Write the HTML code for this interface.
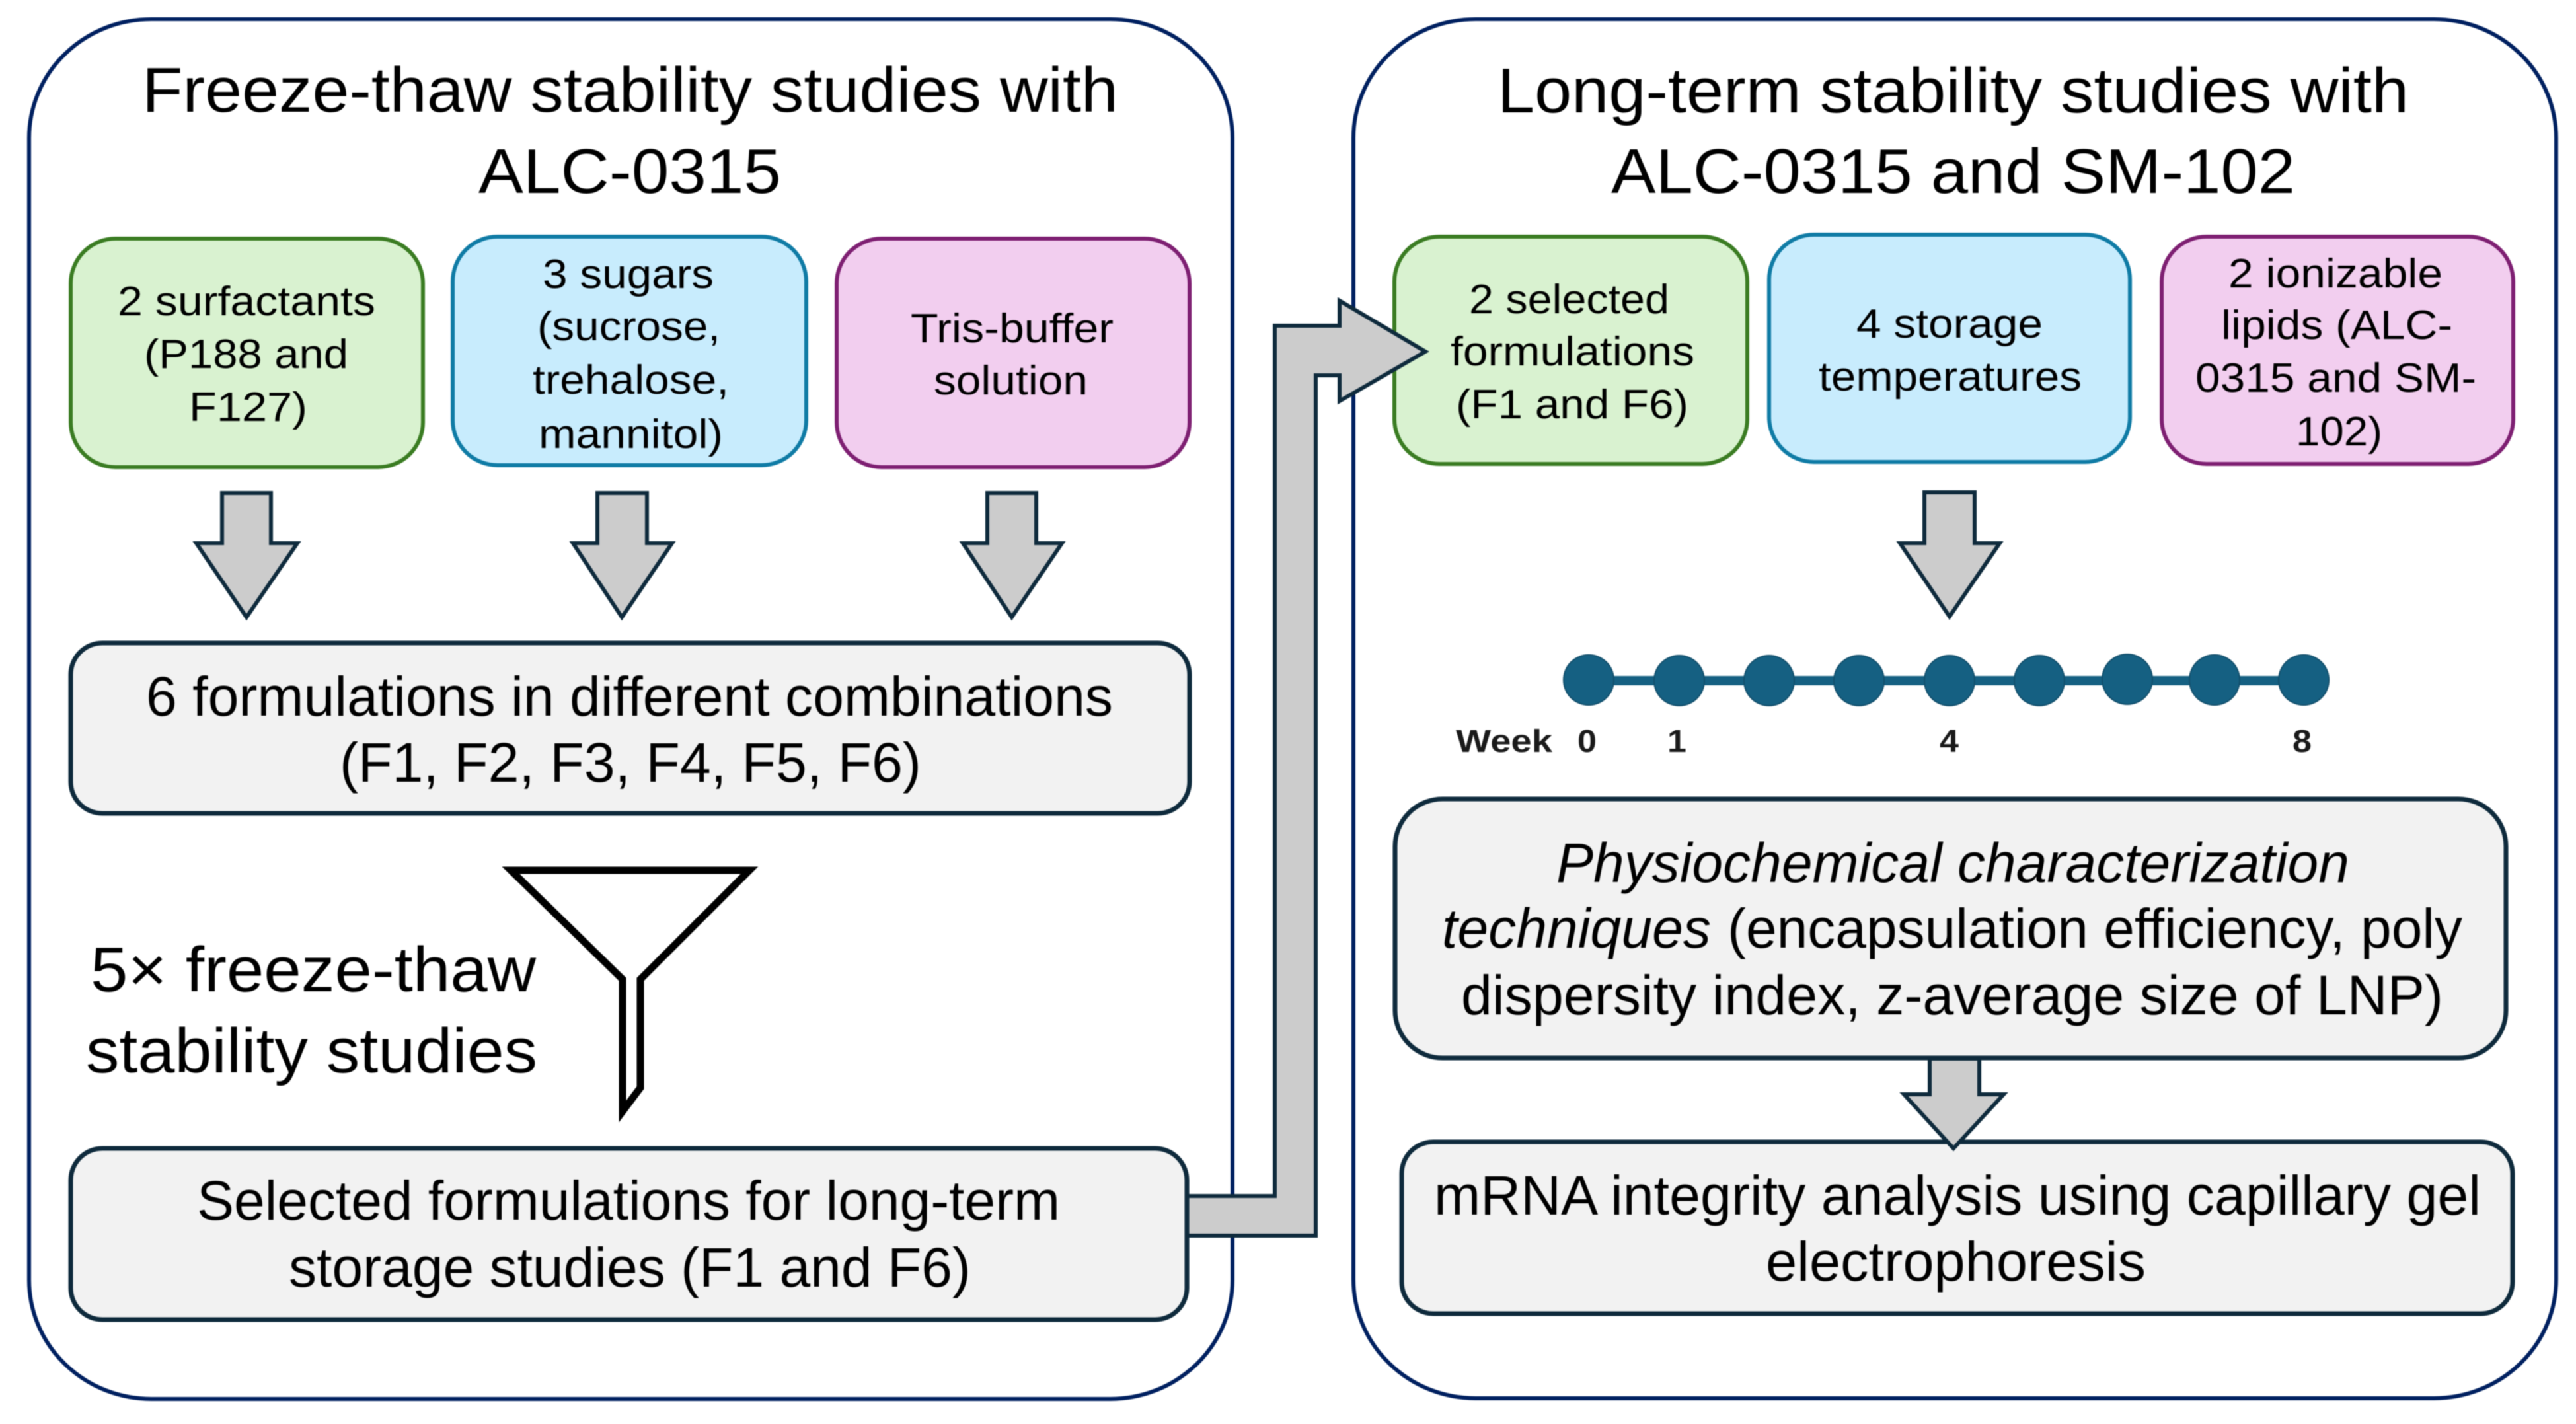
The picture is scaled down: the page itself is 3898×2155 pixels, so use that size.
<!DOCTYPE html>
<html>
<head>
<meta charset="utf-8">
<style>
html,body{margin:0;padding:0;background:#fff;width:3898px;height:2155px;overflow:hidden}
svg{display:block;filter:blur(0.7px)}
text{font-family:"Liberation Sans",sans-serif;fill:#000;}
.t{font-size:96px}
.m{font-size:84px}
.s{font-size:62px}
.w{font-size:48px;font-weight:bold;fill:#1a1a1a}
.i{font-style:italic}
.p{fill:#fff;stroke:#002060;stroke-width:6}
.g{fill:#d9f2d0;stroke:#3a7c22;stroke-width:6}
.b{fill:#c8ecfd;stroke:#0f7ba5;stroke-width:6}
.k{fill:#f2ceef;stroke:#7e1f72;stroke-width:6}
.n{fill:#f2f2f2;stroke:#0e2a3c;stroke-width:7}
.a{fill:#cccccc;stroke:#0e2a3c;stroke-width:6}
</style>
</head>
<body>
<svg xmlns="http://www.w3.org/2000/svg" width="3898" height="2155" viewBox="0 0 3898 2155">
<rect width="3898" height="2155" fill="#fff"/>

<!-- panels -->
<rect class="p" x="44" y="29" width="1821" height="2088" rx="185" ry="180"/>
<rect class="p" x="2048" y="29" width="1820" height="2087" rx="185" ry="180"/>

<!-- right green box (under big arrow) -->
<rect class="g" x="2110" y="358" width="534" height="344" rx="68"/>

<!-- big connector arrow -->
<polygon class="a" points="1790,1810 1929,1810 1929,493 2027,493 2027,455 2157,532 2027,607 2027,568 1991,568 1991,1870 1790,1870"/>

<!-- left boxes -->
<rect class="g" x="107" y="361" width="533" height="346" rx="68"/>
<rect class="b" x="685" y="358" width="535" height="346" rx="68"/>
<rect class="k" x="1266" y="361" width="534" height="346" rx="68"/>
<rect class="n" x="107" y="973" width="1693" height="258" rx="48"/>
<rect class="n" x="107" y="1738" width="1689" height="259" rx="48"/>

<!-- left arrows -->
<polygon class="a" points="336,746 410,746 410,822 450,822 373,934 297,822 336,822"/>
<polygon class="a" points="904,746 979,746 979,822 1017,822 941,934 867,822 904,822"/>
<polygon class="a" points="1494,746 1568,746 1568,822 1607,822 1531,934 1457,822 1494,822"/>

<!-- funnel -->
<path d="M773 1317 L1134 1317 L969 1482 L969 1646 L942 1682 L942 1482 Z" fill="#fff" stroke="#000" stroke-width="11" stroke-linejoin="miter"/>

<!-- right boxes -->
<rect class="b" x="2677" y="355" width="546" height="344" rx="68"/>
<rect class="k" x="3271" y="358" width="532" height="344" rx="68"/>
<rect class="n" x="2111" y="1209" width="1681" height="392" rx="72"/>
<rect class="n" x="2121" y="1728" width="1681" height="260" rx="48"/>

<!-- right arrows -->
<polygon class="a" points="2912,745 2988,745 2988,822 3026,822 2950,933 2875,822 2912,822"/>
<polygon class="a" points="2920,1602 2995,1602 2995,1656 3032,1656 2956,1738 2881,1656 2920,1656"/>

<!-- timeline -->
<rect x="2404" y="1023" width="1081" height="14" fill="#156082"/>
<g fill="#156082" stroke="#124f6c" stroke-width="2">
<circle cx="2404" cy="1029" r="38"/>
<circle cx="2541" cy="1030" r="38"/>
<circle cx="2677" cy="1030" r="38"/>
<circle cx="2813" cy="1030" r="38"/>
<circle cx="2950" cy="1030" r="38"/>
<circle cx="3086" cy="1030" r="38"/>
<circle cx="3219" cy="1028" r="38"/>
<circle cx="3351" cy="1029" r="38"/>
<circle cx="3486" cy="1029" r="38"/>
</g>
<text class="w" x="2203" y="1138" textLength="146" lengthAdjust="spacingAndGlyphs">Week</text>
<text class="w" x="2387" y="1138" textLength="29" lengthAdjust="spacingAndGlyphs">0</text>
<text class="w" x="2523" y="1138" textLength="29" lengthAdjust="spacingAndGlyphs">1</text>
<text class="w" x="2935" y="1138" textLength="29" lengthAdjust="spacingAndGlyphs">4</text>
<text class="w" x="3469" y="1138" textLength="29" lengthAdjust="spacingAndGlyphs">8</text>

<!-- left text -->
<text class="t" x="215" y="169" textLength="1477" lengthAdjust="spacingAndGlyphs">Freeze-thaw stability studies with</text>
<text class="t" x="724" y="292" textLength="458" lengthAdjust="spacingAndGlyphs">ALC-0315</text>

<text class="s" x="178" y="477" textLength="390" lengthAdjust="spacingAndGlyphs">2 surfactants</text>
<text class="s" x="218" y="557" textLength="309" lengthAdjust="spacingAndGlyphs">(P188 and</text>
<text class="s" x="286" y="637" textLength="179" lengthAdjust="spacingAndGlyphs">F127)</text>

<text class="s" x="821" y="436" textLength="259" lengthAdjust="spacingAndGlyphs">3 sugars</text>
<text class="s" x="813" y="515" textLength="277" lengthAdjust="spacingAndGlyphs">(sucrose,</text>
<text class="s" x="806" y="596" textLength="297" lengthAdjust="spacingAndGlyphs">trehalose,</text>
<text class="s" x="815" y="678" textLength="279" lengthAdjust="spacingAndGlyphs">mannitol)</text>

<text class="s" x="1378" y="518" textLength="307" lengthAdjust="spacingAndGlyphs">Tris-buffer</text>
<text class="s" x="1413" y="597" textLength="233" lengthAdjust="spacingAndGlyphs">solution</text>

<text class="m" x="221" y="1083" textLength="1463" lengthAdjust="spacingAndGlyphs">6 formulations in different combinations</text>
<text class="m" x="514" y="1183" textLength="880" lengthAdjust="spacingAndGlyphs">(F1, F2, F3, F4, F5, F6)</text>

<text class="t" x="137" y="1500" textLength="674" lengthAdjust="spacingAndGlyphs">5× freeze-thaw</text>
<text class="t" x="130" y="1623" textLength="683" lengthAdjust="spacingAndGlyphs">stability studies</text>

<text class="m" x="298" y="1846" textLength="1306" lengthAdjust="spacingAndGlyphs">Selected formulations for long-term</text>
<text class="m" x="437" y="1947" textLength="1032" lengthAdjust="spacingAndGlyphs">storage studies (F1 and F6)</text>

<!-- right text -->
<text class="t" x="2266" y="170" textLength="1379" lengthAdjust="spacingAndGlyphs">Long-term stability studies with</text>
<text class="t" x="2438" y="292" textLength="1035" lengthAdjust="spacingAndGlyphs">ALC-0315 and SM-102</text>

<text class="s" x="2223" y="474" textLength="303" lengthAdjust="spacingAndGlyphs">2 selected</text>
<text class="s" x="2195" y="553" textLength="369" lengthAdjust="spacingAndGlyphs">formulations</text>
<text class="s" x="2203" y="633" textLength="352" lengthAdjust="spacingAndGlyphs">(F1 and F6)</text>

<text class="s" x="2809" y="511" textLength="282" lengthAdjust="spacingAndGlyphs">4 storage</text>
<text class="s" x="2752" y="591" textLength="398" lengthAdjust="spacingAndGlyphs">temperatures</text>

<text class="s" x="3372" y="435" textLength="324" lengthAdjust="spacingAndGlyphs">2 ionizable</text>
<text class="s" x="3361" y="513" textLength="350" lengthAdjust="spacingAndGlyphs">lipids (ALC-</text>
<text class="s" x="3322" y="593" textLength="425" lengthAdjust="spacingAndGlyphs">0315 and SM-</text>
<text class="s" x="3474" y="674" textLength="131" lengthAdjust="spacingAndGlyphs">102)</text>

<text class="m i" x="2355" y="1335" textLength="1200" lengthAdjust="spacingAndGlyphs">Physiochemical characterization</text>
<text class="m i" x="2182" y="1434" textLength="407" lengthAdjust="spacingAndGlyphs">techniques</text>
<text class="m" x="2614" y="1434" textLength="1112" lengthAdjust="spacingAndGlyphs">(encapsulation efficiency, poly</text>
<text class="m" x="2211" y="1535" textLength="1486" lengthAdjust="spacingAndGlyphs">dispersity index, z-average size of LNP)</text>

<text class="m" x="2170" y="1838" textLength="1584" lengthAdjust="spacingAndGlyphs">mRNA integrity analysis using capillary gel</text>
<text class="m" x="2672" y="1938" textLength="575" lengthAdjust="spacingAndGlyphs">electrophoresis</text>
</svg>
</body>
</html>
